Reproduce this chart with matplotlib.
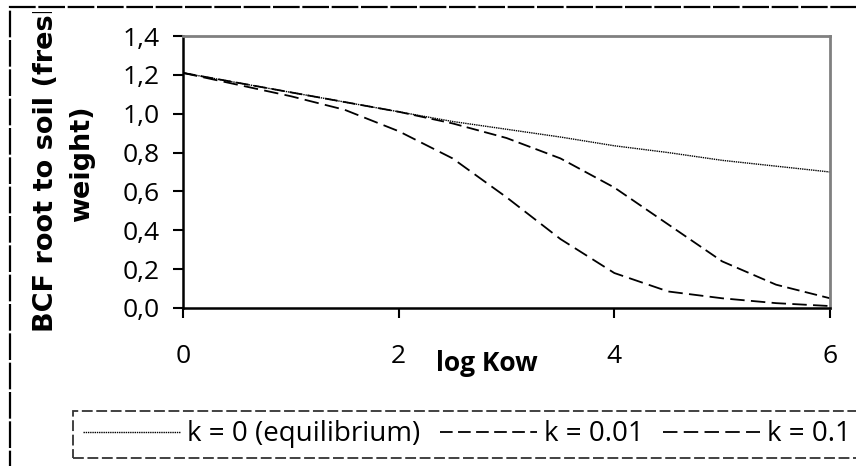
import matplotlib
matplotlib.use("Agg")
import matplotlib.pyplot as plt
from matplotlib.patches import Rectangle
from matplotlib.lines import Line2D
from matplotlib.transforms import Bbox, TransformedBbox

log_kow = [0, 0.5, 1, 1.5, 2, 2.5, 3, 3.5, 4, 4.5, 5, 5.5, 6]
bcf_eq = [1.21, 1.16, 1.11, 1.06, 1.01, 0.96, 0.92, 0.88, 0.835, 0.80, 0.76, 0.73, 0.70]
bcf_k001 = [1.21, 1.16, 1.11, 1.06, 1.01, 0.95, 0.875, 0.77, 0.62, 0.43, 0.24, 0.12, 0.05]
bcf_k01 = [1.21, 1.15, 1.09, 1.02, 0.91, 0.77, 0.57, 0.355, 0.18, 0.085, 0.05, 0.025, 0.01]
labels = ["k = 0 (equilibrium)", "k = 0.01", "k = 0.1"]
xticks = [0, 2, 4, 6]
yticks = [0.0, 0.2, 0.4, 0.6, 0.8, 1.0, 1.2, 1.4]

plt.rcParams['font.family'] = ['Open Sans', 'DejaVu Sans']

W, H = 856, 466
fig = plt.figure(figsize=(W / 100, H / 100), dpi=100)
ax = fig.add_axes([183 / W, 1 - 308 / H, (830 - 183) / W, (308 - 36) / H])

ls_eq = (0, (1, 0.6))
ls_001 = (0, (7, 3))
ls_01 = (0, (8, 3.5))
ax.plot(log_kow, bcf_eq, color='black', lw=1.0, linestyle=ls_eq)
ax.plot(log_kow, bcf_k001, color='black', lw=1.3, linestyle=ls_001)
ax.plot(log_kow, bcf_k01, color='black', lw=1.3, linestyle=ls_01)

ax.set_xlim(0, 6)
ax.set_ylim(0, 1.4)
ax.set_xticks(xticks)
ax.set_xticklabels([str(t) for t in xticks])
ax.set_yticks(yticks)
ax.set_yticklabels([f"{t:.1f}".replace('.', ',') for t in yticks])
ax.tick_params(axis='both', direction='out', length=7, width=1.5, labelsize=19, color='black')
ax.tick_params(axis='x', pad=19)
ax.tick_params(axis='y', pad=10)
for s in ['left', 'bottom']:
    ax.spines[s].set_color('black')
    ax.spines[s].set_linewidth(1.8)
for s in ['top', 'right']:
    ax.spines[s].set_color('#808080')
    ax.spines[s].set_linewidth(2)

fig.text(487 / W, 1 - 371 / H, "log Kow", fontsize=19, fontweight='bold', ha='center', va='baseline')
yl = fig.text(64 / W, 1 - 164 / H, "BCF root to soil (fresh\nweight)", fontsize=19.5, fontweight='bold',
              family='DejaVu Sans', rotation=90, ha='center', va='center',
              multialignment='center', linespacing=1.52)
yl.set_clip_on(True)
yl.set_clip_box(TransformedBbox(Bbox([[0, 0], [1, 1 - 12 / H]]), fig.transFigure))

# outer chart frame (extends beyond the right and bottom edges)
frame = Rectangle((10 / W, -0.05), 1.2, 1 - 7 / H + 0.05, transform=fig.transFigure, fill=False,
                  edgecolor='black', lw=1.6, linestyle=(0, (12, 1.2)))
fig.add_artist(frame)

handles = [
    Line2D([], [], color='black', lw=1.0, linestyle=ls_eq),
    Line2D([], [], color='black', lw=1.3, linestyle=ls_001),
    Line2D([], [], color='black', lw=1.3, linestyle=ls_01),
]
leg = fig.legend(handles, labels, ncol=3, loc='lower left', bbox_to_anchor=(73 / W, 1 - 458 / H),
                 fontsize=20, frameon=True, fancybox=False, handlelength=3.5, handletextpad=0.25,
                 columnspacing=0.7, borderpad=0.35, borderaxespad=0)
fr = leg.get_frame()
fr.set_edgecolor('black')
fr.set_linestyle((0, (6, 2)))
fr.set_linewidth(1.3)

fig.savefig("out.png", dpi=100)
